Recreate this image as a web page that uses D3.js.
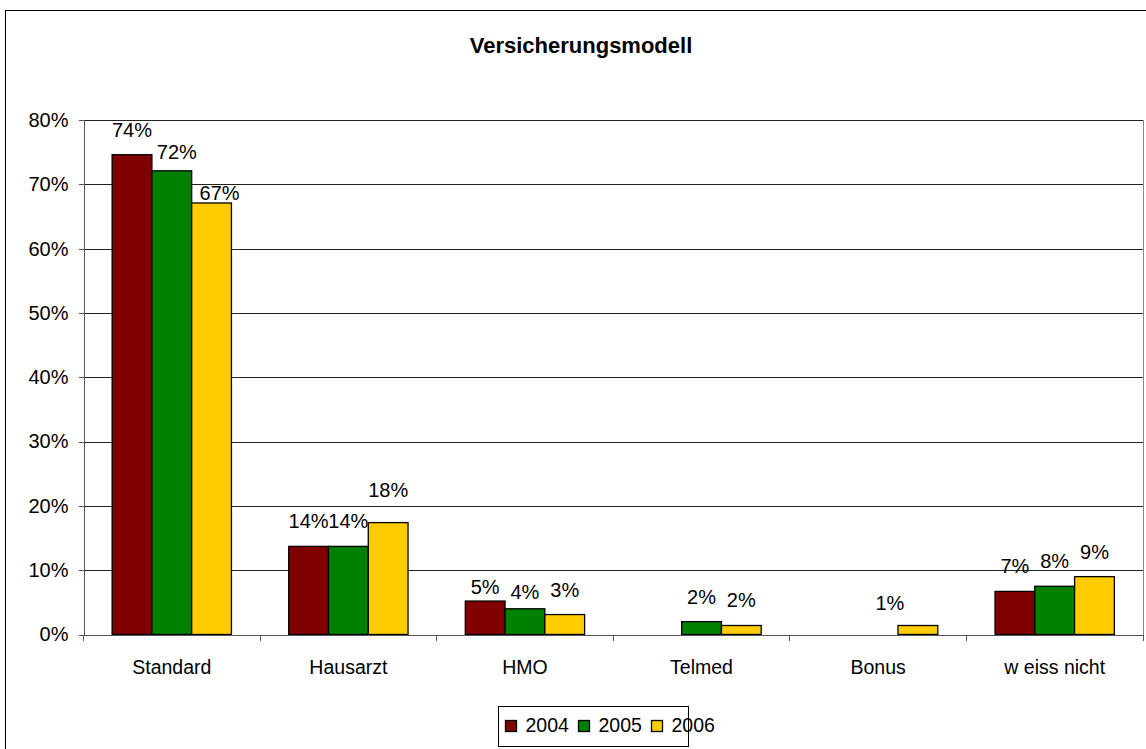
<!DOCTYPE html>
<html>
<head>
<meta charset="utf-8">
<script src="https://cdn.jsdelivr.net/npm/d3@7"></script>
<style>
  body { margin: 0; background: #fff; }
  svg { display: block; font-family: "Liberation Sans", Arial, sans-serif; }
</style>
</head>
<body>
<svg id="chartId" width="1146" height="749"></svg>
<script>
// data
const categories = ["Standard", "Hausarzt", "HMO", "Telmed", "Bonus", "w eiss nicht"];
const years = ["2004", "2005", "2006"];
const values2004 = [74.6, 13.7, 5.2, null, null, 6.7];
const values2005 = [72.1, 13.7, 4.0, 2.0, null, 7.5];
const values2006 = [67.1, 17.4, 3.1, 1.4, 1.4, 9.0];
const labels2004 = ["74%", "14%", "5%", "", "", "7%"];
const labels2005 = ["72%", "14%", "4%", "2%", "", "8%"];
const labels2006 = ["67%", "18%", "3%", "2%", "1%", "9%"];
const yTicks = [0, 10, 20, 30, 40, 50, 60, 70, 80];

const colors = ["#800000", "#008000", "#ffcc00"];
const seriesValues = [values2004, values2005, values2006];
const seriesLabels = [labels2004, labels2005, labels2006];

// hand-moved labels in the original (category|series -> dx, dy)
const labelNudge = {
  "0|1": [5, 6], "0|2": [8, 15],
  "1|2": [0, -8],
  "2|0": [0, 11], "2|1": [0, 8],
  "4|2": [-28, 3]
};

const drawChart = () => {
  const svg = d3.select("#chartId");
  const margin = { top: 120, left: 83.5, right: 1143, bottom: 634.5 };

  // outer chart border
  svg.append("rect")
    .attr("x", 5.5).attr("y", 10.5)
    .attr("width", 1160).attr("height", 760)
    .attr("fill", "none").attr("stroke", "#000");

  svg.append("text")
    .attr("x", 581).attr("y", 53)
    .attr("text-anchor", "middle")
    .attr("font-weight", "bold")
    .attr("font-size", 22)
    .text("Versicherungsmodell");

  const xScale = d3.scaleBand()
    .domain(categories)
    .range([margin.left, margin.right]);

  const xSub = d3.scaleBand()
    .domain(years)
    .range([0, xScale.bandwidth()])
    .paddingOuter(0.72);

  const yScale = d3.scaleLinear()
    .domain([0, 80])
    .range([margin.bottom, margin.top]);

  // gridlines
  const grid = svg.append("g")
    .attr("transform", `translate(${margin.left},0)`)
    .call(d3.axisLeft(yScale).tickValues(yTicks.slice(1))
      .tickSize(-(margin.right - margin.left)).tickFormat(""));
  grid.select(".domain").remove();
  grid.selectAll(".tick line").attr("stroke", "#222").attr("shape-rendering", "crispEdges");

  // plot area right border
  svg.append("line")
    .attr("x1", margin.right).attr("x2", margin.right)
    .attr("y1", margin.top).attr("y2", margin.bottom)
    .attr("stroke", "#888").attr("shape-rendering", "crispEdges");

  // y axis
  const yAxisG = svg.append("g")
    .attr("transform", `translate(${margin.left},0)`)
    .call(d3.axisLeft(yScale).tickValues(yTicks).tickSize(5).tickPadding(10)
      .tickFormat((d) => d + "%"));
  yAxisG.selectAll("path, line").attr("stroke", "#555").attr("shape-rendering", "crispEdges");
  yAxisG.selectAll(".tick text")
    .attr("font-size", 20).attr("fill", "#000")
    .attr("font-family", "Liberation Sans, Arial, sans-serif");

  // bars
  const groups = svg.append("g").selectAll("g")
    .data(categories)
    .enter()
    .append("g")
    .attr("transform", (d) => `translate(${xScale(d)},0)`);

  groups.selectAll("rect")
    .data((d, i) => years.map((y, s) => ({ s: s, year: y, v: seriesValues[s][i] })))
    .enter()
    .filter((d) => d.v != null)
    .append("rect")
    .attr("x", (d) => xSub(d.year))
    .attr("y", (d) => yScale(d.v))
    .attr("width", xSub.bandwidth())
    .attr("height", (d) => yScale(0) - yScale(d.v))
    .attr("fill", (d) => colors[d.s])
    .attr("stroke", "#000")
    .attr("stroke-width", 1.3);

  groups.selectAll("text")
    .data((d, i) => years.map((y, s) => ({ c: i, s: s, year: y, v: seriesValues[s][i], label: seriesLabels[s][i] })))
    .enter()
    .filter((d) => d.v != null && d.label)
    .append("text")
    .attr("x", (d) => xSub(d.year) + xSub.bandwidth() / 2 + (labelNudge[d.c + "|" + d.s] || [0, 0])[0])
    .attr("y", (d) => yScale(d.v) - 18 + (labelNudge[d.c + "|" + d.s] || [0, 0])[1])
    .attr("text-anchor", "middle")
    .attr("font-size", 20)
    .text((d) => d.label);

  // x axis with ticks on category boundaries
  const xAxisG = svg.append("g")
    .attr("transform", `translate(0,${margin.bottom})`)
    .call(d3.axisBottom(xScale).tickSize(0).tickPadding(26));
  xAxisG.select(".domain").attr("stroke", "#555").attr("shape-rendering", "crispEdges");
  xAxisG.selectAll(".tick text")
    .attr("font-size", 19.5).attr("fill", "#000")
    .attr("font-family", "Liberation Sans, Arial, sans-serif");
  xAxisG.selectAll(".boundary")
    .data(d3.range(categories.length + 1))
    .enter()
    .append("line")
    .attr("x1", (i) => margin.left + i * xScale.bandwidth())
    .attr("x2", (i) => margin.left + i * xScale.bandwidth())
    .attr("y1", 0).attr("y2", 6)
    .attr("stroke", "#555").attr("shape-rendering", "crispEdges");

  // legend
  const legend = svg.append("g").attr("transform", "translate(498.5,706.5)");
  legend.append("rect")
    .attr("width", 190).attr("height", 40)
    .attr("fill", "#fff").attr("stroke", "#000");
  const item = legend.selectAll(".item")
    .data(years)
    .enter()
    .append("g")
    .attr("transform", (d, i) => `translate(${7 + i * 73},0)`);
  item.append("rect")
    .attr("y", 14).attr("width", 11).attr("height", 11)
    .attr("fill", (d, i) => colors[i]).attr("stroke", "#000").attr("stroke-width", 1.3);
  item.append("text")
    .attr("x", 20).attr("y", 25)
    .attr("font-size", 19.5)
    .text((d) => d);
};

drawChart();
</script>
</body>
</html>
